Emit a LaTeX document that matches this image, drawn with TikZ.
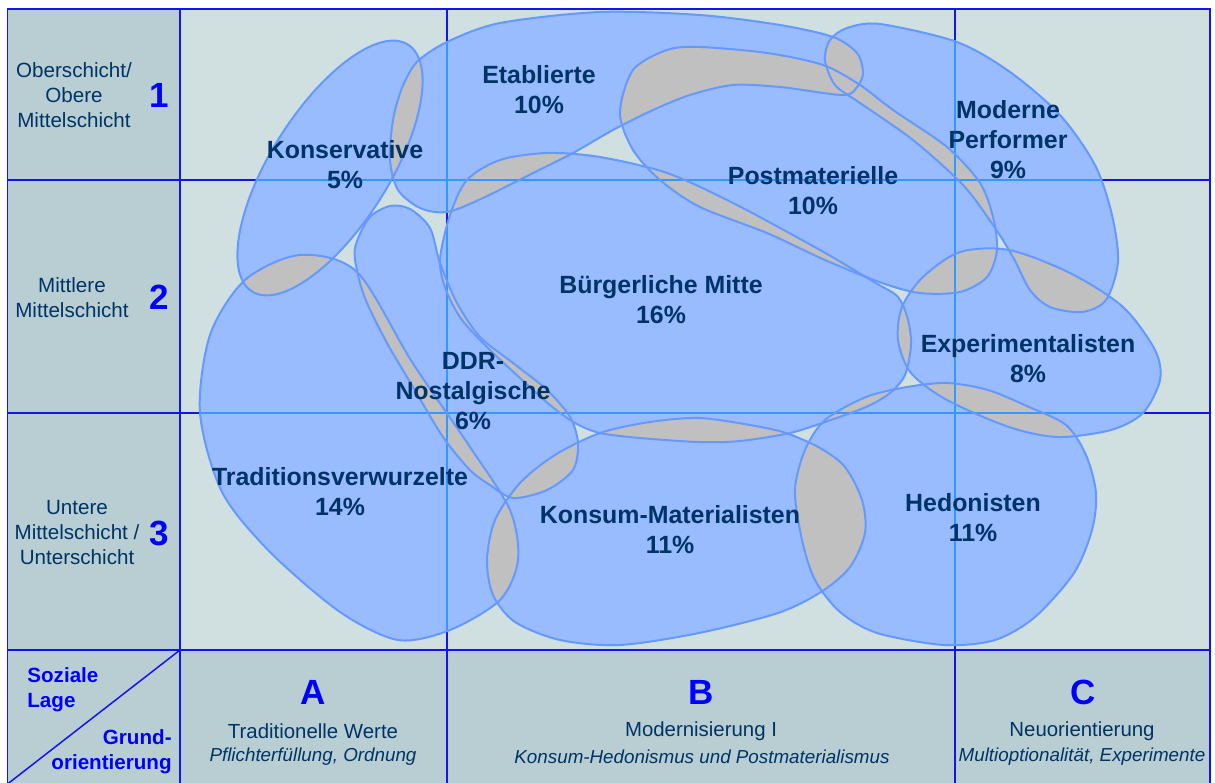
\documentclass[tikz,border=0pt]{standalone}
\usepackage{fontspec}
\setmainfont{Liberation Sans}
\definecolor{headbg}{RGB}{184,206,210}
\definecolor{plotbg}{RGB}{208,223,224}
\definecolor{blobfill}{RGB}{153,187,255}
\definecolor{blobline}{RGB}{102,153,255}
\definecolor{ovl}{RGB}{192,192,192}
\definecolor{gridblue}{RGB}{20,20,240}
\definecolor{lightgrid}{RGB}{51,153,255}
\definecolor{txt}{RGB}{0,51,102}
\definecolor{numblue}{RGB}{0,0,255}
\def\blobK{(330,168) ellipse [x radius=146, y radius=59, rotate=57.7]}
\def\blobE{plot[smooth cycle] coordinates {(417,62) (447,42) (500,23) (600,12) (700,15) (780,25) (833,37) (857,53) (863,73) (857,87) (843,95) (780,87) (733,85) (690,95) (653,110) (613,130) (573,153) (533,173) (483,198) (447,212) (420,208) (398,190) (390,160) (393,120) (402,88)}}
\def\blobP{plot[smooth cycle] coordinates {(620,113) (633,70) (667,50) (700,47) (767,53) (823,65) (860,85) (893,110) (947,147) (980,183) (993,217) (997,250) (987,277) (960,292) (920,293) (882,283) (825,260) (767,233) (700,207) (660,180) (633,150)}}
\def\blobMP{plot[smooth cycle] coordinates {(825,60) (830,40) (847,28) (880,24) (957,42) (1010,72) (1060,115) (1095,165) (1112,215) (1118,262) (1106,300) (1082,312) (1050,307) (1030,290) (1013,257) (993,225) (963,185) (913,140) (860,103) (835,85)}}
\def\blobBM{plot[smooth cycle] coordinates {(440,260) (450,215) (467,180) (500,160) (547,153) (600,157) (667,173) (733,203) (820,250) (874,282) (898,297) (908,320) (911,345) (905,375) (890,393) (866,407) (825,422) (790,433) (740,441) (699,442) (640,438) (600,433) (575,423) (550,405) (520,378) (490,350) (462,320) (446,290)}}
\def\blobD{plot[smooth cycle] coordinates {(355,248) (369,218) (390,206) (410,209) (430,228) (440,263) (457,303) (480,337) (513,363) (547,390) (570,417) (578,443) (573,470) (547,490) (513,498) (490,485) (470,470) (443,437) (413,387) (387,343) (367,303) (358,275)}}
\def\blobT{plot[smooth cycle] coordinates {(200,413) (210,335) (245,280) (300,255) (357,272) (412,362) (470,447) (510,510) (518,560) (500,600) (450,630) (398,640) (340,612) (270,552) (222,492)}}
\def\blobKM{plot[smooth cycle] coordinates {(487,560) (495,520) (520,483) (555,455) (600,433) (650,422) (699,418) (750,425) (786,433) (820,448) (845,467) (862,500) (865,533) (850,567) (821,592) (778,613) (699,633) (620,645) (560,640) (515,622) (493,595)}}
\def\blobH{plot[smooth cycle] coordinates {(825,420) (866,397) (907,387) (947,383) (988,390) (1029,407) (1066,425) (1086,455) (1096,493) (1092,530) (1074,573) (1035,617) (995,640) (944,645) (877,633) (840,612) (815,580) (802,540) (795,490) (805,450)}}
\def\blobX{plot[smooth cycle] coordinates {(898,340) (902,307) (923,277) (960,252) (1009,250) (1070,273) (1123,307) (1155,350) (1160,380) (1143,413) (1111,430) (1058,437) (1009,427) (947,400) (911,373)}}
\def\bloblist{K,E,P,MP,BM,D,T,KM,H,X}
\begin{document}
\begin{tikzpicture}[x=0.5pt,y=-0.5pt,
  gridline/.style={draw=gridblue,line width=0.75pt},
  lgridline/.style={draw=lightgrid,line width=0.75pt},
  outline/.style={draw=blobline,line width=1pt},
  milieu/.style={font=\fontsize{12.45}{15}\selectfont\bfseries,text=txt,align=center,inner sep=0pt},
  rowlab/.style={font=\fontsize{10.3}{12.5}\selectfont,text=txt,align=center,inner sep=0pt},
  bignum/.style={font=\fontsize{17.5}{20}\selectfont\bfseries,text=numblue,inner sep=0pt},
  collab/.style={font=\fontsize{10.2}{12.5}\selectfont,text=txt,inner sep=0pt},
  colsub/.style={font=\fontsize{9.4}{12}\selectfont\itshape,text=txt,inner sep=0pt},
  corner/.style={font=\fontsize{10.3}{12.5}\selectfont\bfseries,text=numblue,inner sep=0pt}]
\useasboundingbox (0,0) rectangle (1215,782);
% backgrounds
\fill[headbg] (7.5,9) rectangle (1210,790);
\fill[plotbg] (180,9) rectangle (1210,650);
% dark grid
\draw[gridline] (7.5,9) rectangle (1210,790);
\draw[gridline] (180,9) -- (180,790);
\draw[gridline] (447,9) -- (447,790);
\draw[gridline] (955,9) -- (955,790);
\draw[gridline] (7.5,180) -- (1210,180);
\draw[gridline] (7.5,413) -- (1210,413);
\draw[gridline] (7.5,650) -- (1210,650);
\draw[gridline] (180,650) -- (7.5,784);
% blob fills
\foreach \b in \bloblist {
  \expandafter\let\expandafter\curA\csname blob\b\endcsname
  \fill[blobfill] \curA;
}
% pairwise overlaps
\foreach \i [count=\ci] in \bloblist {
  \foreach \j [count=\cj] in \bloblist {
    \ifnum\cj>\ci
      \begin{scope}
        \expandafter\let\expandafter\curA\csname blob\i\endcsname
        \expandafter\let\expandafter\curB\csname blob\j\endcsname
        \clip \curA;
        \fill[ovl] \curB;
      \end{scope}
    \fi
  }
}
% light grid over blobs
\foreach \b in \bloblist {
  \begin{scope}
    \expandafter\let\expandafter\curA\csname blob\b\endcsname
    \clip \curA;
    \draw[lgridline] (180,180) -- (1210,180);
    \draw[lgridline] (180,413) -- (1210,413);
    \draw[lgridline] (447,9) -- (447,650);
    \draw[lgridline] (955,9) -- (955,650);
  \end{scope}
}
% outlines
\foreach \b in \bloblist {
  \expandafter\let\expandafter\curA\csname blob\b\endcsname
  \draw[outline] \curA;
}
% milieu labels
\node[milieu] (lK) at (345,165) {Konservative\\5\%};
\node[milieu] (lE) at (539,90) {Etablierte\\10\%};
\node[milieu] (lMP) at (1008,140) {Moderne\\Performer\\9\%};
\node[milieu] (lP) at (813,191) {Postmaterielle\\10\%};
\node[milieu] (lBM) at (661,300) {Bürgerliche Mitte\\16\%};
\node[milieu] (lD) at (473,391) {DDR-\\Nostalgische\\6\%};
\node[milieu] (lX) at (1028,359) {Experimentalisten\\8\%};
\node[milieu] (lT) at (340,492) {Traditionsverwurzelte\\14\%};
\node[milieu] (lKM) at (670,530) {Konsum-Materialisten\\11\%};
\node[milieu] (lH) at (973,518) {Hedonisten\\11\%};
% row labels
\node[rowlab] (r1) at (74,95) {Oberschicht/\\Obere\\Mittelschicht};
\node[bignum] (n1) at (159,95) {1};
\node[rowlab] (r2) at (72,298) {Mittlere\\Mittelschicht};
\node[bignum] (n2) at (159,297) {2};
\node[rowlab] (r3) at (77,533) {Untere\\Mittelschicht /\\Unterschicht};
\node[bignum] (n3) at (159,533) {3};
% corner
\node[corner,align=left,anchor=west] (soz) at (27,690) {Soziale\\Lage};
\node[corner,align=right,anchor=east] (grund) at (172,752) {Grund-\\orientierung};
% column labels
\node[bignum] (cA) at (313,692) {A};
\node[collab] (tA) at (313,731) {Traditionelle Werte};
\node[colsub] (sA) at (313,757) {Pflichterfüllung, Ordnung};
\node[bignum] (cB) at (701,692) {B};
\node[collab] (tB) at (701,731) {Modernisierung I};
\node[colsub] (sB) at (702,757) {Konsum-Hedonismus und Postmaterialismus};
\node[bignum] (cC) at (1083,692) {C};
\node[collab] (tC) at (1082,731) {Neuorientierung};
\node[colsub] (sC) at (1082,757) {Multioptionalität, Experimente};
\end{tikzpicture}
\end{document}
